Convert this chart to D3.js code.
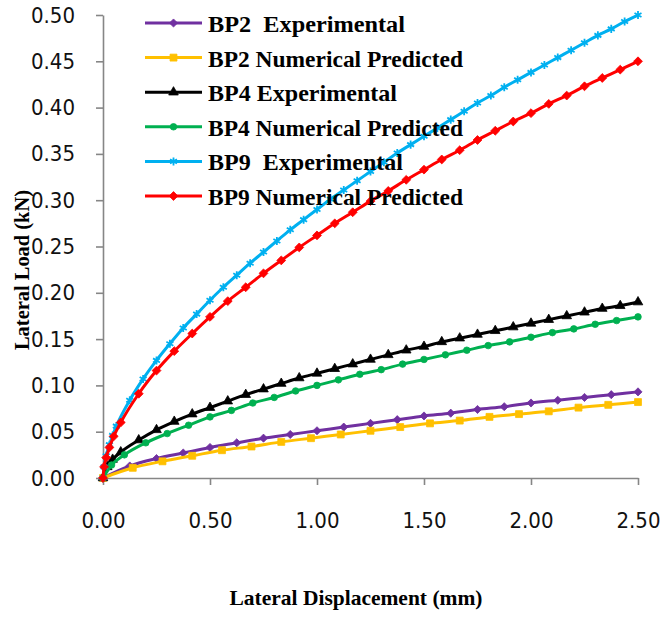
<!DOCTYPE html>
<html>
<head>
<meta charset="utf-8">
<script src="https://cdn.jsdelivr.net/npm/d3@7"></script>
<style>
  body { margin: 0; background: #fff; }
  svg { display: block; }
  .legend text { white-space: pre; }
</style>
</head>
<body>
<div id="chart"></div>
<script>
// ---- data: lateral displacement (mm) vs lateral load (kN) ----
const bp2ExpX = [0, 0.125, 0.25, 0.375, 0.5, 0.625, 0.75, 0.875, 1.0, 1.125, 1.25, 1.375, 1.5, 1.625, 1.75, 1.875, 2.0, 2.125, 2.25, 2.375, 2.5];
const bp2ExpY = [0, 0.013, 0.021, 0.027, 0.033, 0.038, 0.043, 0.047, 0.051, 0.055, 0.059, 0.063, 0.067, 0.070, 0.074, 0.077, 0.081, 0.084, 0.087, 0.090, 0.093];

const bp2NumX = [0, 0.139, 0.278, 0.417, 0.556, 0.694, 0.833, 0.972, 1.111, 1.25, 1.389, 1.528, 1.667, 1.806, 1.944, 2.083, 2.222, 2.361, 2.5];
const bp2NumY = [0, 0.011, 0.018, 0.024, 0.030, 0.034, 0.039, 0.043, 0.047, 0.051, 0.055, 0.059, 0.062, 0.066, 0.069, 0.072, 0.076, 0.079, 0.082];

const bp4ExpX = [0, 0.02, 0.045, 0.083, 0.167, 0.25, 0.333, 0.417, 0.5, 0.583, 0.667, 0.75, 0.833, 0.917, 1.0, 1.083, 1.167, 1.25, 1.333, 1.417, 1.5, 1.583, 1.667, 1.75, 1.833, 1.917, 2.0, 2.083, 2.167, 2.25, 2.333, 2.417, 2.5];
const bp4ExpY = [0, 0.012, 0.020, 0.028, 0.041, 0.052, 0.061, 0.069, 0.076, 0.083, 0.090, 0.096, 0.102, 0.108, 0.113, 0.118, 0.123, 0.128, 0.133, 0.138, 0.142, 0.147, 0.151, 0.155, 0.159, 0.163, 0.167, 0.171, 0.175, 0.179, 0.183, 0.186, 0.190];

const bp4NumX = [0, 0.04, 0.1, 0.2, 0.3, 0.4, 0.5, 0.6, 0.7, 0.8, 0.9, 1.0, 1.1, 1.2, 1.3, 1.4, 1.5, 1.6, 1.7, 1.8, 1.9, 2.0, 2.1, 2.2, 2.3, 2.4, 2.5];
const bp4NumY = [0, 0.014, 0.025, 0.038, 0.048, 0.057, 0.066, 0.073, 0.081, 0.087, 0.094, 0.100, 0.106, 0.112, 0.117, 0.123, 0.128, 0.133, 0.138, 0.143, 0.147, 0.152, 0.157, 0.161, 0.166, 0.170, 0.174];

const bp9ExpX = [0, 0.005, 0.015, 0.03, 0.045, 0.0625, 0.125, 0.1875, 0.25, 0.3125, 0.375, 0.4375, 0.5, 0.5625, 0.625, 0.6875, 0.75, 0.8125, 0.875, 0.9375, 1.0, 1.0625, 1.125, 1.1875, 1.25, 1.3125, 1.375, 1.4375, 1.5, 1.5625, 1.625, 1.6875, 1.75, 1.8125, 1.875, 1.9375, 2.0, 2.0625, 2.125, 2.1875, 2.25, 2.3125, 2.375, 2.4375, 2.5];
const bp9ExpY = [0, 0.012, 0.024, 0.036, 0.046, 0.056, 0.084, 0.107, 0.127, 0.145, 0.162, 0.177, 0.192, 0.206, 0.219, 0.232, 0.244, 0.256, 0.268, 0.279, 0.290, 0.301, 0.311, 0.321, 0.331, 0.341, 0.351, 0.360, 0.369, 0.378, 0.387, 0.396, 0.405, 0.413, 0.422, 0.430, 0.438, 0.446, 0.454, 0.462, 0.470, 0.478, 0.485, 0.493, 0.500];

const bp9NumX = [0, 0.005, 0.015, 0.03, 0.05, 0.083, 0.167, 0.25, 0.333, 0.417, 0.5, 0.583, 0.667, 0.75, 0.833, 0.917, 1.0, 1.083, 1.167, 1.25, 1.333, 1.417, 1.5, 1.583, 1.667, 1.75, 1.833, 1.917, 2.0, 2.083, 2.167, 2.25, 2.333, 2.417, 2.5];
const bp9NumY = [0, 0.012, 0.022, 0.033, 0.045, 0.060, 0.091, 0.116, 0.137, 0.156, 0.174, 0.191, 0.206, 0.221, 0.235, 0.249, 0.262, 0.275, 0.287, 0.299, 0.310, 0.322, 0.333, 0.344, 0.354, 0.365, 0.375, 0.385, 0.394, 0.404, 0.413, 0.423, 0.432, 0.441, 0.450];

const seriesNames = ["BP2  Experimental", "BP2 Numerical Predicted", "BP4 Experimental",
                     "BP4 Numerical Predicted", "BP9  Experimental", "BP9 Numerical Predicted"];
const xTicks = [0, 0.5, 1.0, 1.5, 2.0, 2.5];
const yTicks = [0, 0.05, 0.10, 0.15, 0.20, 0.25, 0.30, 0.35, 0.40, 0.45, 0.50];

// ---- chart ----
const W = 662, H = 617;
const diamond = d3.symbolDiamond2 || d3.symbolDiamond;

const series = [
  { name: seriesNames[0], xs: bp2ExpX, ys: bp2ExpY, color: "#7030A0", sym: diamond, size: 42 },
  { name: seriesNames[1], xs: bp2NumX, ys: bp2NumY, color: "#FFC000", sym: d3.symbolSquare, size: 48 },
  { name: seriesNames[2], xs: bp4ExpX, ys: bp4ExpY, color: "#000000", sym: d3.symbolTriangle, size: 40 },
  { name: seriesNames[3], xs: bp4NumX, ys: bp4NumY, color: "#00B050", sym: d3.symbolCircle, size: 34 },
  { name: seriesNames[4], xs: bp9ExpX, ys: bp9ExpY, color: "#00B0F0", sym: d3.symbolAsterisk, size: 45, stroke: true },
  { name: seriesNames[5], xs: bp9NumX, ys: bp9NumY, color: "#FF0000", sym: diamond, size: 50 }
];
const legendWidths = [197, 255, 189, 255, 195, 255];

const svg = d3.select("#chart").append("svg")
  .attr("width", W)
  .attr("height", H);

const x = d3.scaleLinear().domain([0, 2.5]).range([103, 638]);
const y = d3.scaleLinear().domain([0, 0.5]).range([478, 15]);

const tickFont = "'DejaVu Sans Condensed', 'Liberation Sans', Arial, sans-serif";

// y axis
const gy = svg.append("g")
  .attr("transform", "translate(103,0)")
  .call(d3.axisLeft(y).tickValues(yTicks).tickFormat(d3.format(".2f"))
    .tickSize(7).tickSizeOuter(0).tickPadding(21));

// x axis
const gx = svg.append("g")
  .attr("transform", "translate(0,478)")
  .call(d3.axisBottom(x).tickValues(xTicks).tickFormat(d3.format(".2f"))
    .tickSize(7).tickSizeOuter(0).tickPadding(27));

[gx, gy].forEach(g => {
  g.select(".domain").attr("stroke", "#868686").attr("stroke-width", 1.6);
  g.selectAll(".tick line").attr("stroke", "#868686").attr("stroke-width", 1.6);
  g.selectAll(".tick text")
    .attr("fill", "#111")
    .style("font-family", tickFont)
    .style("font-size", "22px");
});

// lines + markers
const line = d3.line()
  .curve(d3.curveMonotoneX)
  .x(d => x(d[0]))
  .y(d => y(d[1]));

series.forEach(s => {
  const pts = s.xs.map((v, i) => [v, s.ys[i]]);
  const g = svg.append("g");
  g.append("path")
    .datum(pts)
    .attr("fill", "none")
    .attr("stroke", s.color)
    .attr("stroke-width", 3)
    .attr("stroke-linejoin", "round")
    .attr("d", line);
  g.selectAll("path.pt")
    .data(pts)
    .join("path")
    .attr("class", "pt")
    .attr("transform", d => `translate(${x(d[0])},${y(d[1])})`)
    .attr("d", d3.symbol().type(s.sym).size(s.size))
    .attr("fill", s.stroke ? "none" : s.color)
    .attr("stroke", s.color)
    .attr("stroke-width", s.stroke ? 1.8 : 0.8);
});

// legend
const serif = "'Liberation Serif', 'Times New Roman', serif";
const legend = svg.append("g").attr("class", "legend");
series.forEach((s, i) => {
  const cy = 23 + i * 34.6;
  const row = legend.append("g").attr("transform", `translate(0,${cy})`);
  row.append("line")
    .attr("x1", 145).attr("x2", 202)
    .attr("stroke", s.color).attr("stroke-width", 3);
  row.append("path")
    .attr("transform", "translate(173.5,0)")
    .attr("d", d3.symbol().type(s.sym).size(s.size))
    .attr("fill", s.stroke ? "none" : s.color)
    .attr("stroke", s.color)
    .attr("stroke-width", s.stroke ? 1.8 : 0.8);
  row.append("text")
    .attr("x", 208).attr("y", 9)
    .attr("textLength", legendWidths[i])
    .attr("lengthAdjust", "spacingAndGlyphs")
    .style("font-family", serif)
    .style("font-weight", "bold")
    .style("font-size", "23.5px")
    .attr("fill", "#000")
    .text(s.name);
});

// axis titles
svg.append("text")
  .attr("transform", "translate(29,270) rotate(-90)")
  .attr("text-anchor", "middle")
  .attr("textLength", 160)
  .attr("lengthAdjust", "spacingAndGlyphs")
  .style("font-family", serif)
  .style("font-weight", "bold")
  .style("font-size", "21px")
  .text("Lateral Load (kN)");

svg.append("text")
  .attr("x", 356).attr("y", 605)
  .attr("text-anchor", "middle")
  .attr("textLength", 253)
  .attr("lengthAdjust", "spacingAndGlyphs")
  .style("font-family", serif)
  .style("font-weight", "bold")
  .style("font-size", "21px")
  .text("Lateral Displacement (mm)");
</script>
</body>
</html>
